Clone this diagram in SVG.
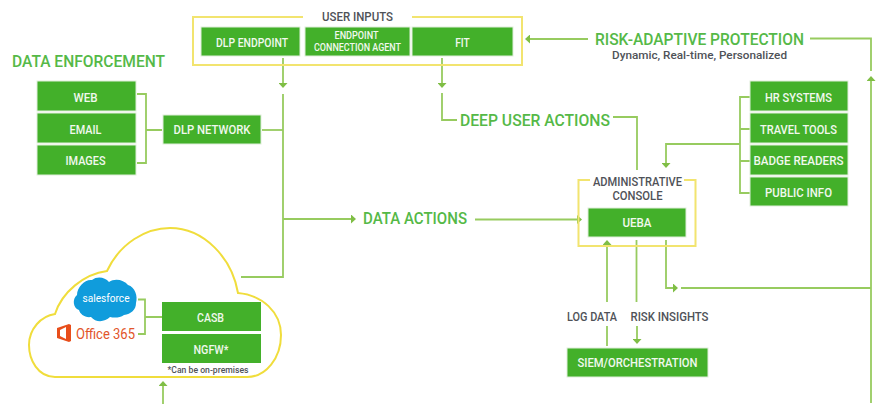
<svg xmlns="http://www.w3.org/2000/svg" width="877" height="404" viewBox="0 0 877 404">
<style>
text{font-family:"Roboto","Liberation Sans",sans-serif}
.b{fill:#43b02a;stroke:#dfeeda;stroke-width:1}
.t{fill:#f1f8ee;font-size:12.500px;font-weight:500;text-anchor:middle}
.s{font-size:10.500px}
.h{fill:#55b947;font-size:17px;font-weight:500}
.g{fill:#4f5258;font-size:12.500px;font-weight:500;text-anchor:middle}
.l{fill:none;stroke:#97cb5f;stroke-width:1.800}
.y{fill:none;stroke:#f2e46f;stroke-width:2}
</style>
<defs>
<marker id="a" viewBox="0 0 5 9" refX="0" refY="4.500" markerWidth="5" markerHeight="9" markerUnits="userSpaceOnUse" orient="auto"><path d="M0 0L5 4.500L0 9Z" fill="#7fbe45"/></marker>
</defs>
<rect width="877" height="404" fill="#fff"/>
<g id="connectors">
<path class="l" d="M283 58V83" marker-end="url(#a)"/>
<path class="l" d="M283 94V277H241"/>
<path class="l" d="M262 130H283"/>
<path class="l" d="M283 219H351" marker-end="url(#a)"/>
<path class="l" d="M475 219.500H577" marker-end="url(#a)"/>
<path class="l" d="M137 94H146V163H137M146 130H162"/>
<path class="l" d="M442 58V83" marker-end="url(#a)"/>
<path class="l" d="M442 93V120H457"/>
<path class="l" d="M613 117H637V170"/>
<path class="l" d="M588 39H530" marker-end="url(#a)"/>
<path class="l" d="M810 38.500H871V71"/>
<path class="l" d="M871 403V81" marker-end="url(#a)"/>
<path class="l" d="M681 288H871"/>
<path class="l" d="M750 97H740V193H750M740 129H750M740 161H750"/>
<path class="l" d="M740 144H666V163" marker-end="url(#a)"/>
<path class="l" d="M607 302V245" marker-end="url(#a)"/>
<path class="l" d="M607 326V346"/>
<path class="l" d="M636.500 240V302"/>
<path class="l" d="M637 326V339" marker-end="url(#a)"/>
<path class="l" d="M666 240V288H673" marker-end="url(#a)"/>
<path class="l" d="M163 404V386" marker-end="url(#a)"/>
<path class="l" d="M138 299.500H145V334H138M145 317H162"/>
</g>
<g id="user-inputs">
<path class="y" d="M303 17H193V65H522V17H412"/>
<text class="g" x="357.500" y="21" textLength="71" lengthAdjust="spacingAndGlyphs">USER INPUTS</text>
</g>
<g id="dlp-endpoint"><rect class="b" x="201" y="27" width="99" height="29"/><text class="t" x="252" y="46.500" textLength="72" lengthAdjust="spacingAndGlyphs">DLP ENDPOINT</text></g>
<g id="endpoint-connection-agent"><rect class="b" x="305" y="27" width="105" height="29"/><text class="t s" x="356.500" y="39" textLength="44" lengthAdjust="spacingAndGlyphs">ENDPOINT</text><text class="t s" x="357.500" y="51" textLength="87" lengthAdjust="spacingAndGlyphs">CONNECTION AGENT</text></g>
<g id="fit"><rect class="b" x="412" y="27" width="101" height="29"/><text class="t" x="462.500" y="46.500" textLength="14.500" lengthAdjust="spacingAndGlyphs">FIT</text></g>
<g id="data-enforcement-label"><text class="h" x="12" y="66.500" textLength="153" lengthAdjust="spacingAndGlyphs">DATA ENFORCEMENT</text></g>
<g id="web"><rect class="b" x="37" y="81" width="99" height="30"/><text class="t" x="85.500" y="101.500" textLength="24" lengthAdjust="spacingAndGlyphs">WEB</text></g>
<g id="email"><rect class="b" x="37" y="113" width="99" height="30"/><text class="t" x="85.500" y="133.500" textLength="32" lengthAdjust="spacingAndGlyphs">EMAIL</text></g>
<g id="images"><rect class="b" x="37" y="145" width="99" height="30"/><text class="t" x="85.500" y="165" textLength="40" lengthAdjust="spacingAndGlyphs">IMAGES</text></g>
<g id="dlp-network"><rect class="b" x="163" y="115" width="98" height="29"/><text class="t" x="212" y="134" textLength="77" lengthAdjust="spacingAndGlyphs">DLP NETWORK</text></g>
<g id="deep-user-actions"><text class="h" x="460" y="126" textLength="150" lengthAdjust="spacingAndGlyphs">DEEP USER ACTIONS</text></g>
<g id="data-actions"><text class="h" x="363" y="224" textLength="104" lengthAdjust="spacingAndGlyphs">DATA ACTIONS</text></g>
<g id="risk-adaptive-protection">
<text class="h" x="595" y="44.500" textLength="209" lengthAdjust="spacingAndGlyphs">RISK-ADAPTIVE PROTECTION</text>
<text class="g" x="699.500" y="59" textLength="175" lengthAdjust="spacingAndGlyphs" style="font-size:11.500px">Dynamic, Real-time, Personalized</text>
</g>
<g id="hr-systems"><rect class="b" x="750" y="81" width="98" height="30"/><text class="t" x="798.500" y="101.500" textLength="67" lengthAdjust="spacingAndGlyphs">HR SYSTEMS</text></g>
<g id="travel-tools"><rect class="b" x="750" y="113" width="98" height="30"/><text class="t" x="798.500" y="133.500" textLength="77" lengthAdjust="spacingAndGlyphs">TRAVEL TOOLS</text></g>
<g id="badge-readers"><rect class="b" x="750" y="145" width="98" height="30"/><text class="t" x="798.500" y="165" textLength="90" lengthAdjust="spacingAndGlyphs">BADGE READERS</text></g>
<g id="public-info"><rect class="b" x="750" y="177" width="98" height="29"/><text class="t" x="798.500" y="196.500" textLength="67" lengthAdjust="spacingAndGlyphs">PUBLIC INFO</text></g>
<g id="administrative-console">
<path class="y" d="M590 180H578.500V246H695.500V180H684"/>
<text class="g" x="637.500" y="185.500" textLength="89" lengthAdjust="spacingAndGlyphs">ADMINISTRATIVE</text>
<text class="g" x="637.500" y="199.500" textLength="50" lengthAdjust="spacingAndGlyphs">CONSOLE</text>
</g>
<g id="ueba"><rect class="b" x="588" y="208" width="98" height="29"/><text class="t" x="637" y="227" textLength="29" lengthAdjust="spacingAndGlyphs">UEBA</text></g>
<g id="log-data"><text class="g" x="592" y="320.500" textLength="50" lengthAdjust="spacingAndGlyphs">LOG DATA</text></g>
<g id="risk-insights"><text class="g" x="669.500" y="320.500" textLength="78" lengthAdjust="spacingAndGlyphs">RISK INSIGHTS</text></g>
<g id="siem"><rect class="b" x="567" y="348" width="141" height="29"/><text class="t" x="637.500" y="367" textLength="120" lengthAdjust="spacingAndGlyphs">SIEM/ORCHESTRATION</text></g>
<g id="cloud">
<path fill="none" stroke="#f0dd3c" stroke-width="2" d="M55 377C38 377 29 360 29 345C29 329 41 316 55 314C62 292 84 274 107 271C120 243 146 228 170 228C204 228 232 258 238 293C262 295 281 312 281 335C281 358 266 377 247 377Z"/>
</g>
<g id="salesforce">
<path fill="#109cdc" d="M92 280C97 276 105 277 109 282C115 278 124 280 128 285C135 287 138 296 136 303C136 310 131 314 124 315C120 318 114 318 110 317C105 322 96 323 91 317C85 318 80 314 79 310C73 308 72 299 77 295C77 287 85 279 92 280Z"/>
<text x="106" y="302" text-anchor="middle" fill="#fff" font-size="11px" textLength="47" lengthAdjust="spacingAndGlyphs">salesforce</text>
</g>
<g id="office-365">
<path fill="#e84e1b" d="M57 328L69 324L71 325V341L69 342L57 338ZM60 330V336L66 339V327Z"/>
<text x="76" y="339" fill="#e2552a" font-size="15.500px" textLength="59" lengthAdjust="spacingAndGlyphs">Office 365</text>
</g>
<g id="casb"><rect x="162" y="302" width="99" height="29" fill="#43b02a"/><text class="t" x="210.500" y="322" textLength="27" lengthAdjust="spacingAndGlyphs">CASB</text></g>
<g id="ngfw"><rect x="162" y="334" width="99" height="29" fill="#43b02a"/><text class="t" x="211" y="354" textLength="35" lengthAdjust="spacingAndGlyphs">NGFW*</text></g>
<g id="note"><text class="g" x="208" y="372.500" textLength="81" lengthAdjust="spacingAndGlyphs" style="font-size:8.500px;font-weight:500">*Can be on-premises</text></g>
</svg>
